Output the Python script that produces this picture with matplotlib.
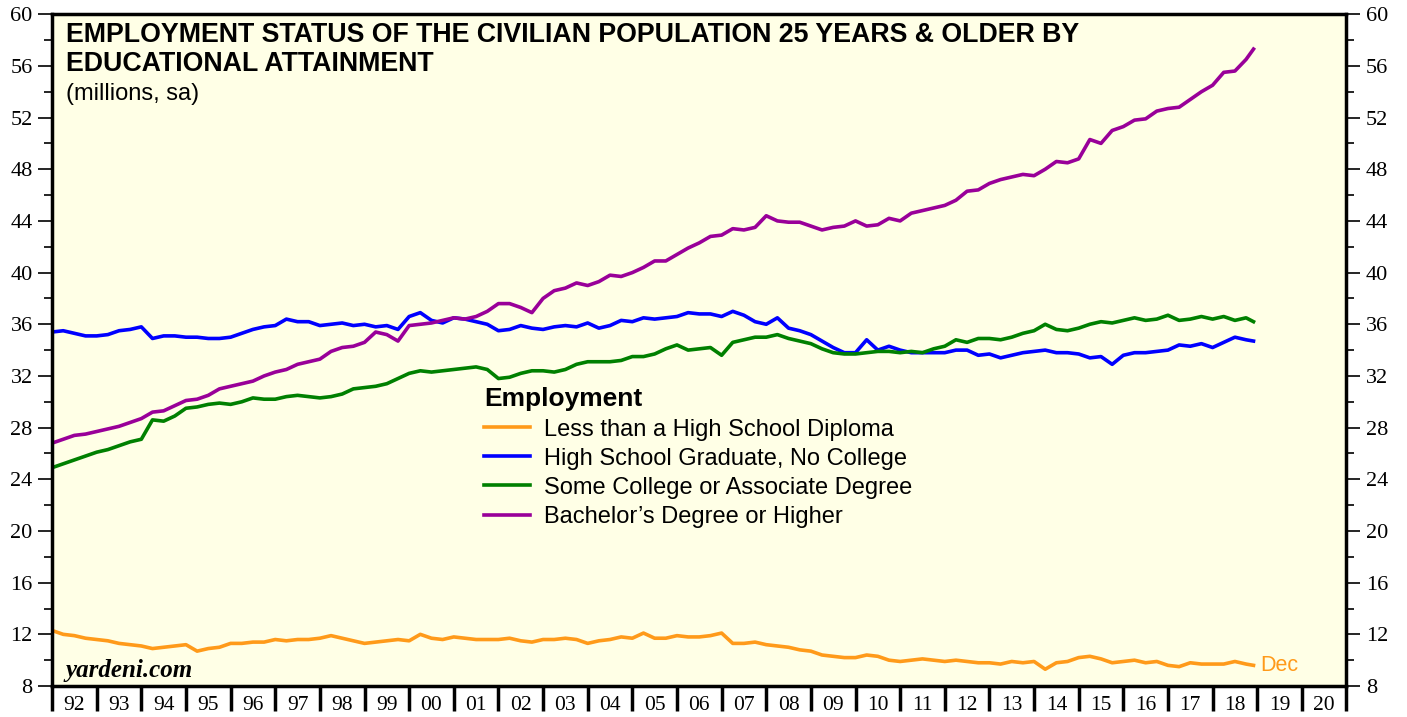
import numpy as np
import matplotlib
matplotlib.use("Agg")
import matplotlib.pyplot as plt
from matplotlib.ticker import MultipleLocator, FixedLocator, NullFormatter, FixedFormatter

# quarterly readings (Jan, Apr, Jul, Oct) 1992-2018, last value is Dec 2018
less_hs = [12.3, 12.0, 11.9, 11.7, 11.6, 11.5, 11.3, 11.2, 11.1, 10.9, 11.0, 11.1,
           11.2, 10.7, 10.9, 11.0, 11.3, 11.3, 11.4, 11.4, 11.6, 11.5, 11.6, 11.6,
           11.7, 11.9, 11.7, 11.5, 11.3, 11.4, 11.5, 11.6, 11.5, 12.0, 11.7, 11.6,
           11.8, 11.7, 11.6, 11.6, 11.6, 11.7, 11.5, 11.4, 11.6, 11.6, 11.7, 11.6,
           11.3, 11.5, 11.6, 11.8, 11.7, 12.1, 11.7, 11.7, 11.9, 11.8, 11.8, 11.9,
           12.1, 11.3, 11.3, 11.4, 11.2, 11.1, 11.0, 10.8, 10.7, 10.4, 10.3, 10.2,
           10.2, 10.4, 10.3, 10.0, 9.9, 10.0, 10.1, 10.0, 9.9, 10.0, 9.9, 9.8,
           9.8, 9.7, 9.9, 9.8, 9.9, 9.3, 9.8, 9.9, 10.2, 10.3, 10.1, 9.8,
           9.9, 10.0, 9.8, 9.9, 9.6, 9.5, 9.8, 9.7, 9.7, 9.7, 9.9, 9.7, 9.6]
hs_grad = [35.4, 35.5, 35.3, 35.1, 35.1, 35.2, 35.5, 35.6, 35.8, 34.9, 35.1, 35.1,
           35.0, 35.0, 34.9, 34.9, 35.0, 35.3, 35.6, 35.8, 35.9, 36.4, 36.2, 36.2,
           35.9, 36.0, 36.1, 35.9, 36.0, 35.8, 35.9, 35.6, 36.6, 36.9, 36.3, 36.1,
           36.5, 36.4, 36.2, 36.0, 35.5, 35.6, 35.9, 35.7, 35.6, 35.8, 35.9, 35.8,
           36.1, 35.7, 35.9, 36.3, 36.2, 36.5, 36.4, 36.5, 36.6, 36.9, 36.8, 36.8,
           36.6, 37.0, 36.7, 36.2, 36.0, 36.5, 35.7, 35.5, 35.2, 34.7, 34.2, 33.8,
           33.8, 34.8, 34.0, 34.3, 34.0, 33.8, 33.8, 33.8, 33.8, 34.0, 34.0, 33.6,
           33.7, 33.4, 33.6, 33.8, 33.9, 34.0, 33.8, 33.8, 33.7, 33.4, 33.5, 32.9,
           33.6, 33.8, 33.8, 33.9, 34.0, 34.4, 34.3, 34.5, 34.2, 34.6, 35.0, 34.8, 34.7]
some_college = [24.9, 25.2, 25.5, 25.8, 26.1, 26.3, 26.6, 26.9, 27.1, 28.6, 28.5, 28.9,
                29.5, 29.6, 29.8, 29.9, 29.8, 30.0, 30.3, 30.2, 30.2, 30.4, 30.5, 30.4,
                30.3, 30.4, 30.6, 31.0, 31.1, 31.2, 31.4, 31.8, 32.2, 32.4, 32.3, 32.4,
                32.5, 32.6, 32.7, 32.5, 31.8, 31.9, 32.2, 32.4, 32.4, 32.3, 32.5, 32.9,
                33.1, 33.1, 33.1, 33.2, 33.5, 33.5, 33.7, 34.1, 34.4, 34.0, 34.1, 34.2,
                33.6, 34.6, 34.8, 35.0, 35.0, 35.2, 34.9, 34.7, 34.5, 34.1, 33.8, 33.7,
                33.7, 33.8, 33.9, 33.9, 33.8, 33.9, 33.8, 34.1, 34.3, 34.8, 34.6, 34.9,
                34.9, 34.8, 35.0, 35.3, 35.5, 36.0, 35.6, 35.5, 35.7, 36.0, 36.2, 36.1,
                36.3, 36.5, 36.3, 36.4, 36.7, 36.3, 36.4, 36.6, 36.4, 36.6, 36.3, 36.5, 36.2]
bachelors = [26.8, 27.1, 27.4, 27.5, 27.7, 27.9, 28.1, 28.4, 28.7, 29.2, 29.3, 29.7,
             30.1, 30.2, 30.5, 31.0, 31.2, 31.4, 31.6, 32.0, 32.3, 32.5, 32.9, 33.1,
             33.3, 33.9, 34.2, 34.3, 34.6, 35.4, 35.2, 34.7, 35.9, 36.0, 36.1, 36.3,
             36.5, 36.4, 36.6, 37.0, 37.6, 37.6, 37.3, 36.9, 38.0, 38.6, 38.8, 39.2,
             39.0, 39.3, 39.8, 39.7, 40.0, 40.4, 40.9, 40.9, 41.4, 41.9, 42.3, 42.8,
             42.9, 43.4, 43.3, 43.5, 44.4, 44.0, 43.9, 43.9, 43.6, 43.3, 43.5, 43.6,
             44.0, 43.6, 43.7, 44.2, 44.0, 44.6, 44.8, 45.0, 45.2, 45.6, 46.3, 46.4,
             46.9, 47.2, 47.4, 47.6, 47.5, 48.0, 48.6, 48.5, 48.8, 50.3, 50.0, 51.0,
             51.3, 51.8, 51.9, 52.5, 52.7, 52.8, 53.4, 54.0, 54.5, 55.5, 55.6, 56.5, 57.3]

labels = ["Less than a High School Diploma", "High School Graduate, No College",
          "Some College or Associate Degree", "Bachelor\u2019s Degree or Higher"]
colors = ["#FF9A1A", "#0000FF", "#008000", "#990099"]
years = list(range(1992, 2021))

# x positions: first day of each quarter, last point Dec 2018
t = [y + q / 4 for y in range(1992, 2019) for q in range(4)] + [2018 + 11 / 12]

fig = plt.figure(figsize=(14.07, 7.17), dpi=100)
ax = fig.add_axes([0.037, 0.0432, 0.920, 0.937])
ax.set_facecolor("#FFFFE6")

for series, lab, col in zip([less_hs, hs_grad, some_college, bachelors], labels, colors):
    ax.plot(t, series, color=col, lw=2.6, label=lab, solid_joinstyle="round")

ax.set_xlim(1992, 2021)
ax.set_ylim(8, 60)

# y axis on both sides
ax.yaxis.set_major_locator(MultipleLocator(4))
ax.yaxis.set_minor_locator(MultipleLocator(2))
ax.tick_params(axis="y", which="both", direction="out", left=True, right=True,
               labelleft=True, labelright=True, width=1.2, labelsize=16, pad=4)
ax.tick_params(axis="y", which="major", length=10)
ax.tick_params(axis="y", which="minor", length=6)

# x axis: ticks at year boundaries, labels centred in each year
ax.xaxis.set_major_locator(FixedLocator(years + [2021]))
ax.xaxis.set_major_formatter(NullFormatter())
ax.xaxis.set_minor_locator(FixedLocator([y + 0.5 for y in years]))
ax.xaxis.set_minor_formatter(FixedFormatter(["%02d" % (y % 100) for y in years]))
ax.tick_params(axis="x", which="major", direction="out", length=18, width=2.5)
ax.tick_params(axis="x", which="minor", length=0, labelsize=15.5, pad=7)

for lbl in ax.xaxis.get_ticklabels(which="both") + ax.yaxis.get_ticklabels(which="both"):
    lbl.set_fontfamily("Liberation Serif")
for s in ax.spines.values():
    s.set_linewidth(2.5)

ax.text(0.011, 0.988, "EMPLOYMENT STATUS OF THE CIVILIAN POPULATION 25 YEARS & OLDER BY\nEDUCATIONAL ATTAINMENT",
        transform=ax.transAxes, ha="left", va="top", fontsize=19.3, fontweight="bold",
        family="Liberation Sans", linespacing=1.12)
ax.text(0.011, 0.897, "(millions, sa)", transform=ax.transAxes, ha="left", va="top",
        fontsize=17, family="Liberation Sans")
ax.text(0.010, 0.014, "yardeni.com", transform=ax.transAxes, ha="left", va="baseline",
        fontsize=18, fontweight="bold", fontstyle="italic", family="Liberation Serif")
ax.text(t[-1] + 0.15, less_hs[-1], "Dec", color=colors[0], fontsize=15.5,
        family="Liberation Sans", ha="left", va="center")

leg = ax.legend(loc="upper left", bbox_to_anchor=(0.3245, 0.462), frameon=False,
                title="Employment", prop={"family": "Liberation Sans", "size": 17},
                handlelength=1.95, handletextpad=0.6, labelspacing=0.3, borderpad=0)
leg.get_title().set_fontweight("bold")
leg.get_title().set_fontsize(19)
leg.get_title().set_family("Liberation Sans")
leg._legend_box.align = "left"

fig.savefig("out.png", dpi=100, facecolor="white")
